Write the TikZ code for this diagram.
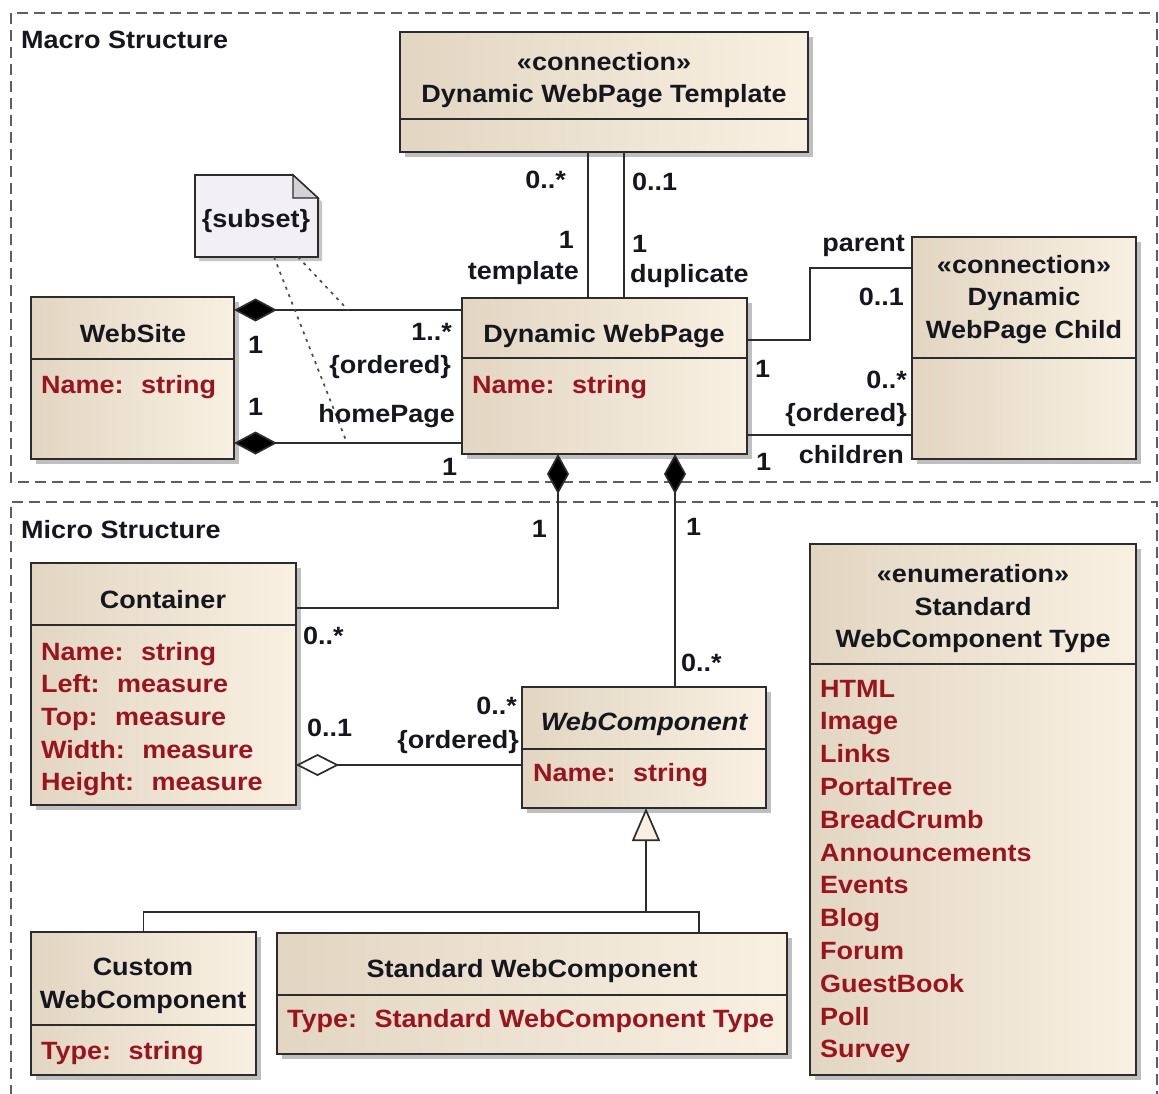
\documentclass[tikz,border=0pt]{standalone}
\usepackage{fontspec}
\setmainfont{Liberation Sans}[FakeStretch=1.08]
\usetikzlibrary{arrows.meta,calc,shadows}

\definecolor{tanL}{HTML}{E2D6C2}
\definecolor{tanR}{HTML}{F9F0E2}
\definecolor{edge}{HTML}{2C2C2C}
\definecolor{attr}{HTML}{9A1420}
\definecolor{ink}{HTML}{16161F}
\definecolor{framec}{HTML}{5E5E5E}
\definecolor{notefill}{HTML}{F2EFF5}
\definecolor{foldfill}{HTML}{D4D1D7}

% class box: name, north-west corner, width, height, offset of the compartment line
\newcommand{\classbox}[5]{%
  \node[cls, minimum width=#3, minimum height=#4] (#1) at #2 {};
  \draw[div] ($(#1.north west)+(0,#5)$) -- ($(#1.north east)+(0,#5)$);
}

\begin{document}
\begin{tikzpicture}[x=1pt, y=-1pt,
  font=\fontsize{25}{32}\selectfont\bfseries,
  cls/.style={draw=edge, line width=1.8pt, left color=tanL, right color=tanR,
    inner sep=0pt, outer sep=0pt, anchor=north west,
    drop shadow={shadow xshift=5pt, shadow yshift=-5pt, fill=black!45, opacity=0.55}},
  div/.style={draw=edge, line width=1.6pt},
  frm/.style={draw=framec, line width=1.5pt, dash pattern=on 11pt off 6pt},
  conn/.style={draw=edge, line width=1.7pt},
  notelink/.style={draw=black!70, line width=1.7pt, dash pattern=on 3pt off 5pt},
  ttl/.style={text=ink, inner sep=0pt, anchor=base},
  lbl/.style={text=ink, inner sep=0pt},
  atr/.style={text=attr, inner sep=0pt, anchor=base west}]

\useasboundingbox (0,0) rectangle (1159,1093);
\fill[white] (0,0) rectangle (1159,1093);

% package frames
\draw[frm] (11,13) rectangle (1157,482);
\draw[frm] (11,1096) -- (11,502) -- (1157,502) -- (1157,1096);
\node[lbl, anchor=base west] (macro) at (21,48) {Macro Structure};
\node[lbl, anchor=base west] (micro) at (21,538) {Micro Structure};

% ---------- macro structure ----------
\classbox{tmpl}{(400,32)}{408}{120}{87}
\node[ttl] (tmpl-s) at (604,70) {«connection»};
\node[ttl] (tmpl-t) at (604,102) {Dynamic WebPage Template};

\classbox{website}{(31,297)}{203}{162}{62}
\node[ttl] (website-t) at (133,342) {WebSite};
\node[atr] (website-a) at (41,393) {Name:~ string};

\classbox{dwp}{(462,298)}{285}{156}{60}
\node[ttl] (dwp-t) at (604,342) {Dynamic WebPage};
\node[atr] (dwp-a) at (472,393) {Name:~ string};

\classbox{child}{(912,237)}{224}{222}{121}
\node[ttl] (child-s) at (1024,273) {«connection»};
\node[ttl] (child-t1) at (1024,305) {Dynamic};
\node[ttl] (child-t2) at (1024,338) {WebPage Child};

% note with folded corner
\node[inner sep=0pt, outer sep=0pt, minimum width=123, minimum height=82, anchor=north west] (note) at (195,175) {};
\draw[draw=edge, line width=1.6pt, fill=notefill,
  drop shadow={shadow xshift=4pt, shadow yshift=-4pt, fill=black!45, opacity=0.5}]
  (note.north west) -- ($(note.north east)+(-25,0)$) -- ($(note.north east)+(0,23)$)
  -- (note.south east) -- (note.south west) -- cycle;
\draw[draw=edge, line width=1.4pt, fill=foldfill]
  ($(note.north east)+(-25,0)$) -- ($(note.north east)+(-25,23)$) -- ($(note.north east)+(0,23)$) -- cycle;
\node[ttl] (note-t) at ($(note.north west)+(61,52)$) {\{subset\}};

% associations
\draw[conn, {Diamond[length=43pt, width=23pt, fill=black]}-]
  ($(website.north east)+(0,13)$) coordinate (wsTop) -- ($(dwp.north west)+(0,12)$);
\draw[conn, {Diamond[length=43pt, width=23pt, fill=black]}-]
  ($(website.north east)+(0,146)$) coordinate (wsBot) -- ($(dwp.north west)+(0,145)$);
\draw[conn] ($(tmpl.south west)+(188,0)$) -- ($(dwp.north west)+(126,0)$);
\draw[conn] ($(tmpl.south west)+(224,0)$) -- ($(dwp.north west)+(162,0)$);
\draw[conn] ($(dwp.north east)+(0,42)$) -- ++(63,0) |- ($(child.north west)+(0,31)$);
\draw[conn] ($(dwp.north east)+(0,137)$) -- ($(child.north west)+(0,198)$);

% constraint links from the note
\coordinate (linkTop) at ($(wsTop)+(114,0)$);
\coordinate (linkBot) at ($(wsBot)+(113,0)$);
\draw[notelink] ($(note.south west)+(103,0)$) -- (linkTop);
\draw[notelink] ($(note.south west)+(79,0)$) -- (linkBot);

% multiplicities and role names
\node[lbl, anchor=base east] (m1) at (566,188) {0..*};
\node[lbl, anchor=base west] (m2) at (632,190) {0..1};
\node[lbl, anchor=base east] (m3) at (574,248) {1};
\node[lbl, anchor=base east] (r1) at (579,279) {template};
\node[lbl, anchor=base west] (m4) at (632,252) {1};
\node[lbl, anchor=base west] (r2) at (630,282) {duplicate};
\node[lbl, anchor=base west] (m5) at (248,353) {1};
\node[lbl, anchor=base west] (m6) at (248,415) {1};
\node[lbl, anchor=base east] (m7) at (452,340) {1..*};
\node[lbl, anchor=base east] (o1) at (451,373) {\{ordered\}};
\node[lbl, anchor=base east] (r3) at (455,422) {homePage};
\node[lbl, anchor=base west] (m8) at (442,475) {1};
\node[lbl, anchor=base east] (r4) at (905,251) {parent};
\node[lbl, anchor=base east] (m9) at (904,305) {0..1};
\node[lbl, anchor=base west] (m10) at (755,377) {1};
\node[lbl, anchor=base east] (m11) at (907,388) {0..*};
\node[lbl, anchor=base east] (o2) at (907,421) {\{ordered\}};
\node[lbl, anchor=base east] (r5) at (904,463) {children};
\node[lbl, anchor=base west] (m12) at (756,470) {1};

% ---------- micro structure ----------
\classbox{container}{(31,563)}{265}{242}{62}
\node[ttl] (container-t) at (163,608) {Container};
\foreach \txt [count=\i from 0] in {Name:~ string, Left:~ measure, Top:~ measure, Width:~ measure, Height:~ measure}
  \node[atr] (container-a\i) at (41,660+32.7*\i) {\txt};

\classbox{wc}{(522,687)}{244}{121}{62}
\node[ttl] (wc-t) at (644,730) {\itshape WebComponent};
\node[atr] (wc-a) at (533,781) {Name:~ string};

\classbox{custom}{(31,932)}{225}{143}{93}
\node[ttl] (custom-t1) at (143,975) {Custom};
\node[ttl] (custom-t2) at (143,1008) {WebComponent};
\node[atr] (custom-a) at (41,1059) {Type:~ string};

\classbox{std}{(277,933)}{510}{121}{62}
\node[ttl] (std-t) at (532,977) {Standard WebComponent};
\node[atr] (std-a) at (287,1027) {Type:~ Standard WebComponent Type};

\classbox{enum}{(810,544)}{326}{531}{120}
\node[ttl] (enum-s) at (973,582) {«enumeration»};
\node[ttl] (enum-t1) at (973,615) {Standard};
\node[ttl] (enum-t2) at (973,647) {WebComponent Type};
\foreach \txt [count=\i from 0] in {HTML, Image, Links, PortalTree, BreadCrumb, Announcements, Events, Blog, Forum, GuestBook, Poll, Survey}
  \node[atr] (enum-v\i) at (820,697+32.8*\i) {\txt};

% compositions from the web page
\draw[conn, {Diamond[length=40pt, width=22pt, fill=black]}-]
  ($(dwp.south west)+(96,0)$) |- ($(container.north east)+(0,45)$);
\draw[conn, {Diamond[length=40pt, width=22pt, fill=black]}-]
  ($(dwp.south west)+(213,0)$) -- ($(wc.north west)+(153,0)$);
% aggregation of components in containers
\draw[conn, {Diamond[open, length=43pt, width=22pt, fill=white]}-]
  ($(container.north east)+(0,202)$) -- ($(wc.north west)+(0,78)$);
% generalization
\coordinate (gj) at ($(wc.south west)+(124,104)$);
\draw[conn, -{Triangle[open, length=33pt, width=28pt, fill=tanR]}] (gj) -- (gj |- wc.south);
\draw[conn] (custom.north) |- (gj) -| ($(std.north west)+(422,0)$);

\node[lbl, anchor=base east] (m13) at (547,537) {1};
\node[lbl, anchor=base west] (m14) at (303,644) {0..*};
\node[lbl, anchor=base west] (m15) at (686,535) {1};
\node[lbl, anchor=base west] (m16) at (681,671) {0..*};
\node[lbl, anchor=base west] (m17) at (307,736) {0..1};
\node[lbl, anchor=base east] (m18) at (517,714) {0..*};
\node[lbl, anchor=base east] (o3) at (519,748) {\{ordered\}};
\end{tikzpicture}
\end{document}
